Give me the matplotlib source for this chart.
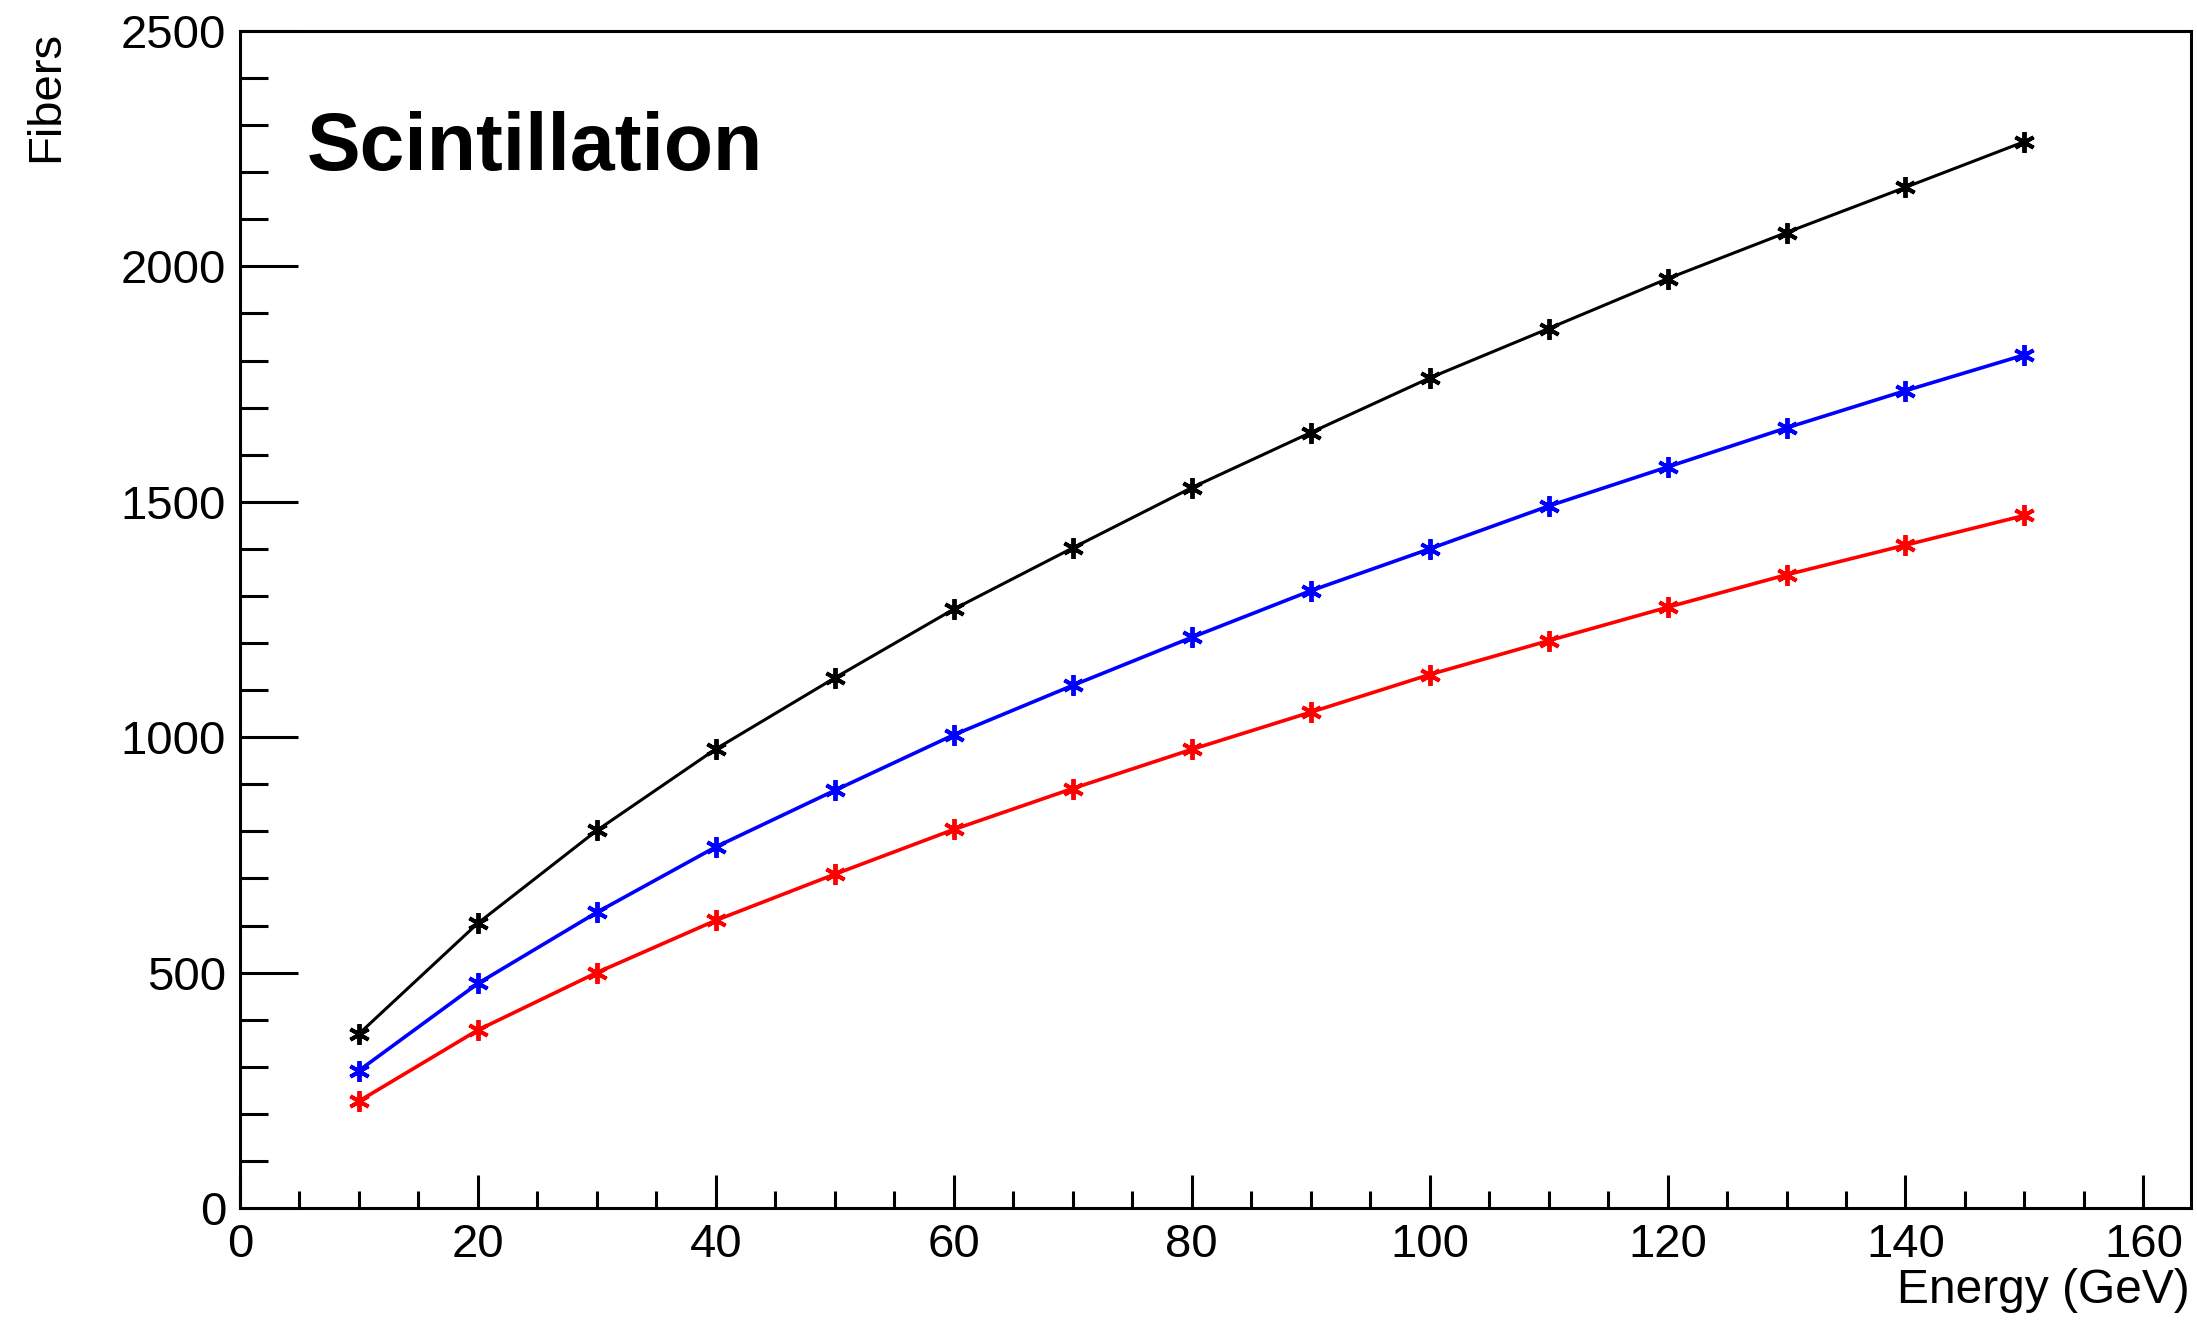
import matplotlib
matplotlib.use("Agg")
import matplotlib.pyplot as plt
from matplotlib.ticker import MultipleLocator

energy = [10, 20, 30, 40, 50, 60, 70, 80, 90, 100, 110, 120, 130, 140, 150]
fibers_black = [370, 605, 802, 975, 1126, 1272, 1402, 1530, 1647, 1763, 1868, 1974, 2072, 2168, 2265]
fibers_blue = [292, 477, 628, 767, 887, 1005, 1110, 1212, 1311, 1400, 1491, 1574, 1657, 1736, 1812]
fibers_red = [227, 378, 500, 611, 709, 804, 891, 974, 1053, 1133, 1205, 1276, 1345, 1408, 1471]

plt.rcParams['font.family'] = ['Liberation Sans', 'DejaVu Sans']

W, H = 2197, 1320
fig = plt.figure(figsize=(W / 100, H / 100), dpi=100)
ax = fig.add_axes([240 / W, 1 - 1208 / H, (2191 - 240) / W, (1208 - 31) / H])

mk = (6, 2, 0)
ax.plot(energy, fibers_black, color='black', lw=2.2, marker=mk, ms=15, mew=2.8)
ax.plot(energy, fibers_blue, color='#0000ff', lw=2.6, marker=mk, ms=15, mew=2.8)
ax.plot(energy, fibers_red, color='#ff0000', lw=2.6, marker=mk, ms=15, mew=2.8)

ax.set_xlim(0, 164)
ax.set_ylim(0, 2500)
ax.xaxis.set_major_locator(MultipleLocator(20))
ax.xaxis.set_minor_locator(MultipleLocator(5))
ax.yaxis.set_major_locator(MultipleLocator(500))
ax.yaxis.set_minor_locator(MultipleLocator(100))

for s in ax.spines.values():
    s.set_linewidth(2.2)

ax.tick_params(axis='x', which='major', direction='in', length=24, width=2.2, labelsize=34, pad=11)
ax.tick_params(axis='x', which='minor', direction='in', length=12, width=2.2)
ax.tick_params(axis='y', which='major', direction='in', length=42, width=2.2, labelsize=34, pad=10)
ax.tick_params(axis='y', which='minor', direction='in', length=20, width=2.2)

fig.text(2190 / W, 1 - 1303 / H, 'Energy (GeV)', ha='right', va='baseline', fontsize=34.5)
fig.text(68 / W, 1 - 31 / H, 'Fibers', ha='right', va='top', rotation=90, fontsize=34)
fig.text(307 / W, 1 - 170 / H, 'Scintillation', ha='left', va='baseline', fontsize=58, fontweight='bold')

fig.savefig('out.png', dpi=100)
